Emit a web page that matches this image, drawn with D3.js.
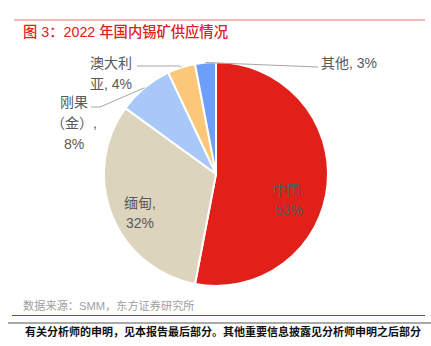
<!DOCTYPE html>
<html><head><meta charset="utf-8">
<script src="https://cdn.jsdelivr.net/npm/d3@7"></script>
<style>html,body{margin:0;padding:0;background:#fff;}svg{display:block;font-family:"Liberation Sans","Noto Sans CJK SC",sans-serif;}</style>
</head><body>
<svg id="c" width="431" height="346"></svg>
<script>
const categories = ["中国", "缅甸", "刚果（金）", "澳大利亚", "其他"];
const values = [53, 32, 8, 4, 3];
const colors = ["#E2201A", "#DDD4BD", "#A8C8F9", "#FDC779", "#6E9FF8"];
const labelLines = [["中国,", "53%"], ["缅甸,", "32%"], ["刚果", "（金）,", "8%"], ["澳大利", "亚, 4%"], ["其他, 3%"]];

const svg = d3.select("#c");
const cx = 216, cy = 174, R = 112;

// header
svg.append("line").attr("x1", 14).attr("x2", 425).attr("y1", 20).attr("y2", 20)
  .attr("stroke", "#F3A3A3").attr("stroke-width", 1.5);
svg.append("text").attr("x", 23).attr("y", 37).attr("fill", "#E0201B")
  .attr("font-size", 14.3).attr("font-weight", 500).text("图 3：2022 年国内锡矿供应情况");

const data = categories.map((c, i) => ({ name: c, value: values[i], color: colors[i], lines: labelLines[i] }));
const pie = d3.pie().value(d => d.value).sort(null);
const arcs = pie(data);
const arc = d3.arc().innerRadius(0).outerRadius(R);
const g = svg.append("g").attr("transform", `translate(${cx},${cy})`);
g.selectAll("path").data(arcs).join("path")
  .attr("d", arc).attr("fill", d => d.data.color)
  .attr("stroke", "#fff").attr("stroke-width", 2);

const lblColor = "#595959";
const fs = 14;
const inside = { "中国": [289, 195], "缅甸": [140, 208] };
const outside = {
  "刚果（金）": { x: 74, y: 107, anchor: "middle", pts: [[100, 107], [91, 107]], gap: 21 },
  "澳大利亚": { x: 90, y: 68, anchor: "start", pts: [[180, 66], [137, 66]], gap: 21 },
  "其他": { x: 321, y: 68, anchor: "start", pts: [[318, 67]], gap: 21 }
};
arcs.forEach(a => {
  const d = a.data;
  if (inside[d.name]) {
    const [x, y] = inside[d.name];
    const t = svg.append("text").attr("fill", lblColor).attr("font-size", fs).attr("text-anchor", "middle");
    d.lines.forEach((ln, i) => t.append("tspan").attr("x", x).attr("y", y + i * 20).text(ln));
  } else {
    const o = outside[d.name];
    const mid = (a.startAngle + a.endAngle) / 2;
    const p0 = [cx + Math.sin(mid) * R, cy - Math.cos(mid) * R];
    const pts = [p0].concat(o.pts);
    svg.append("path").attr("d", d3.line()(pts)).attr("fill", "none")
      .attr("stroke", "#A6A6A6").attr("stroke-width", 1);
    const t = svg.append("text").attr("fill", lblColor).attr("font-size", fs).attr("text-anchor", o.anchor);
    d.lines.forEach((ln, i) => t.append("tspan").attr("x", o.x).attr("y", o.y + i * o.gap).text(ln));
  }
});

// footer
svg.append("text").attr("x", 23).attr("y", 310).attr("fill", "#A0A0A0")
  .attr("font-size", 11.2).text("数据来源：SMM，东方证券研究所");
svg.append("line").attr("x1", 12).attr("x2", 425).attr("y1", 315.5).attr("y2", 315.5)
  .attr("stroke", "#E2201A").attr("stroke-width", 1);
svg.append("line").attr("x1", 8).attr("x2", 431).attr("y1", 323).attr("y2", 323)
  .attr("stroke", "#555").attr("stroke-width", 1.2);
svg.append("text").attr("x", 25).attr("y", 336).attr("fill", "#111")
  .attr("font-size", 11).attr("font-weight", "bold").text("有关分析师的申明，见本报告最后部分。其他重要信息披露见分析师申明之后部分");
</script>
</body></html>
